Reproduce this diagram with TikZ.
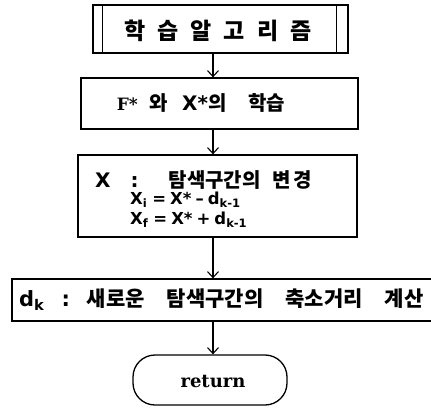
\documentclass[tikz,border=0pt]{standalone}
\usepackage{fontspec}
\newfontfamily\kr{Noto Sans CJK KR}
\newfontfamily\dvs{DejaVu Sans}
\newfontfamily\dvserif{DejaVu Serif}
\usetikzlibrary{arrows.meta}
\tikzset{
  box/.style={draw, line width=1.3pt, inner sep=0pt, anchor=center},
  arr/.style={line width=1.1pt, -{Straight Barb[length=6pt,width=11pt,line width=1.1pt]}},
  lbl/.style={inner sep=0pt, anchor=center},
}
\begin{document}
\begin{tikzpicture}[x=1pt,y=-1pt]
\useasboundingbox (0,0) rectangle (431,410);
% box 1: predefined process
\node[box, minimum width=255pt, minimum height=48pt] (b1) at (220.5,29) {};
\draw[line width=1.3pt] ([xshift=10pt]b1.north west) -- ([xshift=10pt]b1.south west);
\draw[line width=1.3pt] ([xshift=-12pt]b1.north east) -- ([xshift=-12pt]b1.south east);
\node[lbl, font=\kr\bfseries\fontsize{23}{26}\selectfont] (t1) at (218,31) {학\hspace{12pt}습\hspace{12pt}알\hspace{12pt}고\hspace{12pt}리\hspace{12pt}즘};
% box 2
\node[box, minimum width=277pt, minimum height=51pt] (b2) at (219.5,103.5) {};
\node[lbl, font=\kr\bfseries\fontsize{20}{22}\selectfont] (t2) at (201,103) {{\dvserif\bfseries\fontsize{17}{20}\selectfont F*}\hspace{12pt}와\hspace{14pt}{\dvs\bfseries X*}의\hspace{22pt}학습};
% box 3
\node[box, minimum width=279pt, minimum height=82pt] (b3) at (217.5,196) {};
\node[lbl, anchor=west, font=\kr\bfseries\fontsize{20}{22}\selectfont] (t3a) at (95,180) {{\dvs\bfseries X}\hspace{20pt}{\dvs\bfseries :}\hspace{30pt}탐색구간의\hspace{12pt}변\hspace{3pt}경};
\node[lbl, anchor=west, font=\dvs\bfseries\fontsize{16.5}{18}\selectfont] (t3b) at (130,200) {X\textsubscript{i}\hspace{5pt}=\hspace{4pt}X*\hspace{4pt}–\hspace{4pt}d\textsubscript{k-1}};
\node[lbl, anchor=west, font=\dvs\bfseries\fontsize{16.5}{18}\selectfont] (t3c) at (130,220) {X\textsubscript{f}\hspace{5pt}=\hspace{4pt}X*\hspace{4pt}+\hspace{4pt}d\textsubscript{k-1}};
% box 4
\node[box, minimum width=421pt, minimum height=42pt] (b4) at (222.5,300) {};
\node[lbl, anchor=west, font=\kr\bfseries\fontsize{21}{24}\selectfont] (t4) at (19,300) {{\dvs d\textsubscript{k}}\hspace{17pt}{\dvs\bfseries :}\hspace{17pt}새로운\hspace{22pt}탐색구간의\hspace{22pt}축소거리\hspace{22pt}계산};
% return
\node[box, rounded corners=22pt, minimum width=154pt, minimum height=50pt] (b5) at (210,380) {};
\node[lbl, font=\dvserif\bfseries\fontsize{18}{20}\selectfont] (t5) at (213,381) {return};
% arrows
\coordinate (ax) at (213,0);
\draw[arr] (b1.south -| ax) -- (b2.north -| ax);
\draw[arr] (b2.south -| ax) -- (b3.north -| ax);
\draw[arr] (b3.south -| ax) -- (b4.north -| ax);
\draw[arr] (b4.south -| ax) -- (b5.north -| ax);
\end{tikzpicture}
\end{document}
